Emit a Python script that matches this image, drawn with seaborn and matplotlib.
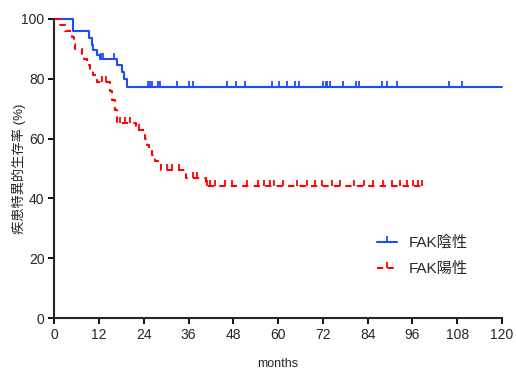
import numpy as np
import pandas as pd
import matplotlib.pyplot as plt
import seaborn as sns
from matplotlib.lines import Line2D

# FAK negative (blue) - step curve
neg_time = [0, 5.0, 9.4, 10.1, 10.5, 11.4, 12.3, 16.8, 18.1, 18.8, 19.5, 120]
neg_surv = [100, 96, 93.6, 91.3, 89.7, 88, 86.6, 84.5, 82.3, 80, 77.2, 77.2]
neg_cens = [4.3, 12.6, 13.2, 16.0, 25.1, 25.7, 26.3, 27.8, 28.4, 32.9, 36.2, 37.3,
            46.3, 48.8, 51.2, 58.3, 60.3, 62.3, 64.4, 65.6, 72.1, 72.7, 73.2, 73.9,
            77.5, 80.8, 81.8, 87.9, 89.3, 91.8, 105.7, 109.2]

# FAK positive (red)
pos_time = [0, 1.6, 3.0, 4.7, 5.2, 5.7, 7.4, 7.9, 8.8, 9.6, 10.3, 11.5, 15.0, 15.6,
            16.3, 16.8, 22.0, 24.4, 24.9, 25.3, 26.2, 27.0, 28.7, 35.4, 40.7, 99.0]
pos_surv = [100, 98, 96, 94, 91.6, 90, 88.3, 86.6, 84.5, 83, 81.3, 79, 76, 73,
            69.5, 65.2, 62.9, 60, 58, 56.5, 54.5, 52.5, 49.5, 46.8, 44, 44]
pos_cens = [12.8, 13.8, 17.6, 19.0, 20.4, 22.8, 30.2, 31.5, 33.5, 37.3, 38.2,
            40.9, 41.8, 43.1, 45.8, 47.6, 51.6, 54.7, 56.1, 57.9, 58.8, 61.4, 65.0,
            67.7, 69.9, 71.7, 74.4, 76.6, 80.2, 82.9, 85.5, 88.2, 90.4, 92.7, 94.5,
            96.2, 97.6, 98.5]

x_ticks = [0, 12, 24, 36, 48, 60, 72, 84, 96, 108, 120]
y_ticks = [0, 20, 40, 60, 80, 100]

blue = "#1f4bff"
red = "#ff0000"


def level_at(times, surv, t):
    idx = np.searchsorted(times, t, side="right") - 1
    return surv[idx]


sns.set_style("ticks")
plt.rcParams["font.family"] = ["Liberation Sans", "Noto Sans CJK JP", "DejaVu Sans"]

fig = plt.figure(figsize=(5.16, 3.69), dpi=100)
ax = fig.add_axes([0.105, 0.138, 0.868, 0.811])

sns.lineplot(x=neg_time, y=neg_surv, drawstyle="steps-post", color=blue,
             linewidth=1.5, ax=ax, clip_on=False)
sns.lineplot(x=pos_time, y=pos_surv, drawstyle="steps-post", color=red,
             linewidth=1.5, ax=ax, clip_on=False, dashes=False, linestyle=(0, (3, 2.5)))

# censor marks: short ticks pointing up from the curve
neg_cy = [level_at(neg_time, neg_surv, t) for t in neg_cens]
pos_cy = [level_at(pos_time, pos_surv, t) for t in pos_cens]
ax.plot(neg_cens, neg_cy, linestyle="none", marker=2, markersize=4,
        markeredgewidth=1.3, color=blue, zorder=3)
ax.plot(pos_cens, pos_cy, linestyle="none", marker=2, markersize=4,
        markeredgewidth=1.3, color=red, zorder=3)

ax.set_xlim(0, 120)
ax.set_ylim(0, 100)
ax.set_xticks(x_ticks)
ax.set_yticks(y_ticks)
ax.tick_params(labelsize=10, width=1.3, length=4, color="black", pad=3)
for s in ["left", "bottom"]:
    ax.spines[s].set_linewidth(1.5)
sns.despine(ax=ax)

ax.set_xlabel("months", fontsize=9, labelpad=12)
ax.set_ylabel("疾患特異的生存率 (%)", fontsize=9.5)
ax.yaxis.set_label_coords(-0.062, 0.5)

handles = [
    Line2D([], [], color=blue, marker=2, markersize=4, markeredgewidth=1.3, linewidth=1.5),
    Line2D([], [], color=red, marker=2, markersize=4, markeredgewidth=1.3, linewidth=1.5,
           linestyle=(0, (3, 2))),
]
ax.legend(handles, ["FAK陰性", "FAK陽性"], loc="upper left", bbox_to_anchor=(0.69, 0.32),
          frameon=False, fontsize=11, handlelength=1.3, labelspacing=0.8)

fig.savefig("out.png", dpi=100)
